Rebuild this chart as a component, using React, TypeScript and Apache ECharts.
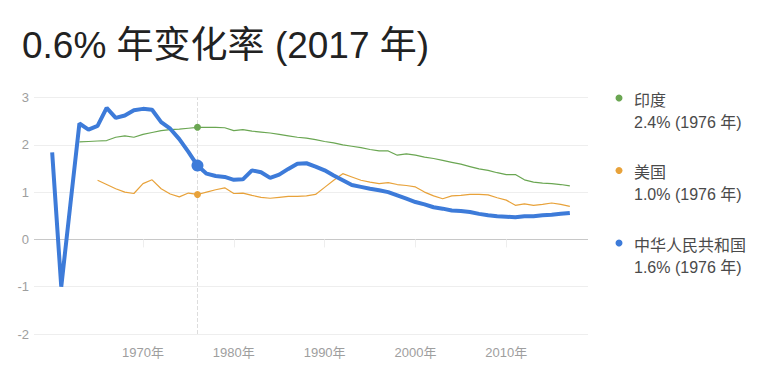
import React, { useEffect, useRef } from "react";
import * as echarts from "echarts";

const FIRST_YEAR = 1958;
const LAST_YEAR = 2019;
const labelYears = ["1970", "1980", "1990", "2000", "2010"];

const chinaStart = 1960;
const chinaValues = [
  1.84, -1.0, 0.73, 2.45, 2.32, 2.4, 2.78, 2.57, 2.62, 2.73,
  2.76, 2.74, 2.48, 2.34, 2.12, 1.85, 1.56, 1.39, 1.34, 1.32,
  1.26, 1.27, 1.46, 1.42, 1.3, 1.37, 1.49, 1.6, 1.61, 1.54,
  1.46, 1.35, 1.25, 1.15, 1.11, 1.07, 1.04, 1.0, 0.93, 0.86,
  0.79, 0.74, 0.68, 0.65, 0.61, 0.6, 0.58, 0.54, 0.51, 0.49,
  0.48, 0.47, 0.49, 0.49, 0.51, 0.52, 0.54, 0.56,
];

const indiaStart = 1963;
const indiaValues = [
  2.06, 2.07, 2.08, 2.09, 2.16, 2.19, 2.16,
  2.22, 2.26, 2.3, 2.32, 2.33, 2.35, 2.37, 2.37, 2.37, 2.36,
  2.3, 2.32, 2.29, 2.27, 2.25, 2.22, 2.19, 2.16, 2.14, 2.11,
  2.07, 2.04, 2.0, 1.97, 1.94, 1.9, 1.87, 1.87, 1.78, 1.81,
  1.78, 1.74, 1.71, 1.67, 1.63, 1.59, 1.54, 1.49, 1.46, 1.41,
  1.37, 1.37, 1.26, 1.21, 1.19, 1.18, 1.16, 1.13,
];

const usStart = 1965;
const usValues = [
  1.25, 1.16, 1.07, 1.0, 0.97,
  1.18, 1.26, 1.07, 0.96, 0.9, 0.98, 0.95, 1.0, 1.05, 1.09,
  0.97, 0.98, 0.93, 0.89, 0.87, 0.89, 0.91, 0.91, 0.92, 0.95,
  1.1, 1.25, 1.39, 1.32, 1.25, 1.21, 1.18, 1.2, 1.16, 1.14,
  1.11, 1.0, 0.92, 0.86, 0.92, 0.93, 0.95, 0.95, 0.94, 0.88,
  0.83, 0.72, 0.75, 0.72, 0.74, 0.77, 0.74, 0.7,
];

const highlightYear = "1976";
const seriesNames = ["印度", "美国", "中华人民共和国"];
const legendValues = ["2.4% (1976 年)", "1.0% (1976 年)", "1.6% (1976 年)"];
const titleText = "0.6% 年变化率 (2017 年)";

const COLORS = ["#6aa652", "#e8a23a", "#3d7bd9"];
const FONT = "'Liberation Sans', Arial, 'Noto Sans CJK SC', sans-serif";

const years: string[] = [];
for (let y = FIRST_YEAR; y <= LAST_YEAR; y++) years.push(String(y));

function align(start: number, values: number[]) {
  return years.map((y) => {
    const i = Number(y) - start;
    return i >= 0 && i < values.length ? values[i] : null;
  });
}

export default function App() {
  const ref = useRef<HTMLDivElement>(null);

  useEffect(() => {
    if (!ref.current) return;
    const chart = echarts.init(ref.current, undefined, { renderer: "svg" });

    const india = align(indiaStart, indiaValues);
    const us = align(usStart, usValues);
    const china = align(chinaStart, chinaValues);
    const hi = years.indexOf(highlightYear);

    const legendGraphics: any[] = [];
    seriesNames.forEach((name, i) => {
      const cy = 98 + i * 72.5;
      legendGraphics.push({
        type: "circle",
        shape: { cx: 619, cy, r: 3.5 },
        style: { fill: COLORS[i] },
      });
      legendGraphics.push({
        type: "text",
        x: 634,
        y: cy + 2,
        style: {
          text: name,
          font: `16px ${FONT}`,
          fill: "#4a4a4a",
          verticalAlign: "middle",
        },
      });
      legendGraphics.push({
        type: "text",
        x: 634,
        y: cy + 24,
        style: {
          text: legendValues[i],
          font: `16px ${FONT}`,
          fill: "#4a4a4a",
          verticalAlign: "middle",
        },
      });
    });

    const showLabel = (_i: number, v: string) => labelYears.indexOf(v) >= 0;

    chart.setOption({
      animation: false,
      textStyle: { fontFamily: FONT },
      title: {
        text: titleText,
        left: 17,
        top: 22,
        textStyle: {
          fontSize: 37,
          fontWeight: "normal",
          color: "#222",
          fontFamily: FONT,
        },
      },
      graphic: legendGraphics,
      grid: { left: 34, right: 187, top: 97.5, bottom: 50 },
      xAxis: {
        type: "category",
        data: years,
        boundaryGap: false,
        axisLine: { show: false },
        axisTick: {
          show: true,
          length: 8,
          interval: showLabel,
          lineStyle: { color: "#eeeeee" },
        },
        axisLabel: {
          interval: showLabel,
          formatter: (v: string) => `${v}年`,
          color: "#9e9e9e",
          fontSize: 13,
          margin: 12,
          fontFamily: FONT,
        },
        splitLine: { show: false },
      },
      yAxis: {
        type: "value",
        min: -2,
        max: 3,
        interval: 1,
        axisLine: { show: false },
        axisTick: { show: false },
        axisLabel: {
          color: "#9e9e9e",
          fontSize: 13,
          margin: 5,
          fontFamily: FONT,
        },
        splitLine: {
          lineStyle: {
            color: ["#eeeeee", "#eeeeee", "#c8c8c8", "#eeeeee", "#eeeeee", "#eeeeee"],
            width: 1,
          },
        },
      },
      series: [
        {
          name: "crosshair",
          type: "line",
          data: [],
          silent: true,
          markLine: {
            silent: true,
            symbol: "none",
            label: { show: false },
            lineStyle: { color: "#dddddd", type: "dashed", width: 1 },
            data: [{ xAxis: highlightYear }],
          },
        },
        {
          name: seriesNames[0],
          type: "line",
          data: india,
          symbol: "none",
          lineStyle: { color: COLORS[0], width: 1.2 },
          itemStyle: { color: COLORS[0] },
          z: 3,
        },
        {
          name: seriesNames[1],
          type: "line",
          data: us,
          symbol: "none",
          lineStyle: { color: COLORS[1], width: 1.2 },
          itemStyle: { color: COLORS[1] },
          z: 3,
        },
        {
          name: seriesNames[2],
          type: "line",
          data: china,
          symbol: "none",
          lineStyle: { color: COLORS[2], width: 4 },
          itemStyle: { color: COLORS[2] },
          z: 4,
        },
        {
          name: "highlight",
          type: "scatter",
          z: 5,
          data: [
            { value: [highlightYear, india[hi]], symbolSize: 7, itemStyle: { color: COLORS[0], opacity: 1 } },
            { value: [highlightYear, us[hi]], symbolSize: 7, itemStyle: { color: COLORS[1], opacity: 1 } },
            { value: [highlightYear, china[hi]], symbolSize: 12, itemStyle: { color: COLORS[2], opacity: 1 } },
          ],
        },
      ],
    });

    return () => chart.dispose();
  }, []);

  return (
    <div
      ref={ref}
      style={{ position: "fixed", left: 0, top: 0, width: 775, height: 384, background: "#fff" }}
    />
  );
}
